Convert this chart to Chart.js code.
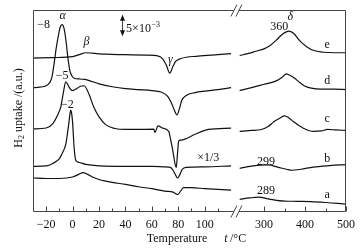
<!DOCTYPE html>
<html>
<head>
<meta charset="utf-8">
<script src="https://cdn.jsdelivr.net/npm/chart.js@4.4.0/dist/chart.umd.min.js"></script>
<style>
  html, body { margin: 0; padding: 0; background: #fff; }
</style>
</head>
<body>
<canvas id="tpr" width="361" height="252"></canvas>
<script>
// H2 uptake curves a..e, [temperature, signal] pairs (arbitrary units)
// low = sub-ambient / low temperature window, high = 240-500 window
const aLow = [[-30,35],[-20,34.5],[-10,34.5],[0,36],[5,39],[8,40.5],[11,39],[15,36],[20,33.5],[30,30.5],[40,28.5],[50,26],[60,24],[70,21.5],[76,20.5],[79.5,18],[82,22],[84,25],[90,25],[100,24],[120,22.5]]
const aHigh = [[240,13],[265,14.5],[287,15.3],[310,13.5],[330,12],[350,11.3],[380,11],[414,10.7],[450,9.8],[480,8.8],[500,8]]

const bLow = [[-30,47],[-20,47.5],[-15,50],[-10,55],[-8,60],[-6,66],[-5,71],[-4,80],[-3,90],[-2,101],[-1.5,105],[-0.8,102],[0,92],[0.6,78],[1.2,65],[2.5,53],[5,51],[10,49],[20,47.5],[40,47],[60,47],[70,46.5],[74,46],[76,43],[78,38],[79.5,35],[81,38],[83,44],[86,46],[100,46.5],[120,47.5]]
const bHigh = [[240,45],[265,47],[290,48.3],[310,48.5],[335,46],[355,44],[368,43],[390,44],[420,46.3],[460,47.8],[500,48.8]]

const cLow = [[-30,85.5],[-20,86.5],[-15,91],[-11,101],[-9,108],[-7,123],[-5.2,134],[-4,132],[-2,127],[0,125],[3,127],[6,129.5],[8.7,130],[12.5,121],[16,108],[20,98],[25,90],[32,86],[40,85],[50,85],[61.5,85.3],[62.3,82],[64.7,88.7],[68,86.5],[72.8,83],[74,76],[76,62],[77.8,48],[78.5,46],[79.3,58],[80.3,73],[82,74],[85,75],[92.8,80],[102.8,85],[120,86.3]]
const cHigh = [[240,83],[270,84],[291,84.7],[310,88],[324,93],[340,97],[350,99],[360,97],[372,93],[385,89],[396,86.3],[420,83],[440,83.5],[455,85],[475,84.5],[500,84]]

const dLow = [[-30,128],[-25,128.5],[-20,130],[-17,134],[-15.5,140],[-14,153],[-12.5,168],[-11,180],[-9.5,190],[-8,193],[-6.5,189],[-5,176],[-3.5,158],[-2,145],[-0.5,140],[1.5,137.5],[5,137],[9,136.5],[12,135.5],[20,132],[30,129],[40,127],[50,126],[60,125],[67,123.5],[72,119],[75.2,111],[77,105],[79,100],[81,107],[82.7,115],[86,120],[92.8,123],[100,124.5],[110,126],[120,128]]
const dHigh = [[240,125],[270,128],[300,131.5],[330,135],[345,139],[354,142.3],[362,141],[374,138],[385,134],[398,130],[415,127.5],[440,126.5],[470,126.5],[500,126]]

const eLow = [[-30,158.5],[-15,159],[0,160],[5,162],[10,164],[15,163.5],[25,162.5],[40,162],[55,161.5],[65,160.5],[68,158],[71,151],[73.5,143],[76,150],[78,155],[82,158],[95,160.5],[110,162],[120,163]]
const eHigh = [[240,161],[260,163],[280,165.5],[300,168],[315,171.5],[330,177],[345,183],[360,186.3],[372,184],[388,176],[405,170],[420,166.5],[445,164.5],[470,164],[500,164]]

const lowSeries = [aLow, bLow, cLow, dLow, eLow]
const highSeries = [aHigh, bHigh, cHigh, dHigh, eHigh]

// tick values of the broken temperature axis
const leftMajor = [-20, 0, 20, 40, 60, 80, 100]
const leftMinor = [-10, 10, 30, 50, 70, 90, 110]
const rightMajor = [300, 400, 500]
const rightMinor = [350, 450]

// peak / curve labels, placed in data coordinates
const notes = [
  { text: '−8', axis: 'xl', t: -22, y: 193 },
  { text: 'α', axis: 'xl', t: -7.6, y: 202, italic: true },
  { text: 'β', axis: 'xl', t: 10.5, y: 175, italic: true },
  { text: '−5', axis: 'xl', t: -7.9, y: 140 },
  { text: '−2', axis: 'xl', t: -4, y: 110 },
  { text: 'γ', axis: 'xl', t: 74, y: 157, italic: true },
  { text: '×1/3', axis: 'xl', t: 102.7, y: 56 },
  { text: '360', axis: 'xr', t: 337, y: 191 },
  { text: 'δ', axis: 'xr', t: 364, y: 200.5, italic: true },
  { text: '299', axis: 'xr', t: 305, y: 52 },
  { text: '289', axis: 'xr', t: 305, y: 22 },
  { text: 'e', axis: 'xr', t: 454, y: 172.5 },
  { text: 'd', axis: 'xr', t: 454, y: 135.5 },
  { text: 'c', axis: 'xr', t: 454, y: 95.5 },
  { text: 'b', axis: 'xr', t: 454, y: 55 },
  { text: 'a', axis: 'xr', t: 454, y: 18 }
]

const serif = "'Liberation Serif', 'DejaVu Serif', serif"
const ink = '#111'

function line(points, axis) {
  return {
    data: points,
    xAxisID: axis,
    yAxisID: 'y',
    borderColor: ink,
    borderWidth: 1.2,
    pointRadius: 0,
    fill: false,
    cubicInterpolationMode: 'monotone'
  }
}

const datasets = []
lowSeries.forEach((s, i) => {
  datasets.push(line(s, 'xl'))
  datasets.push(line(highSeries[i], 'xr'))
})

const minus = v => String(v).replace('-', '−')

// frame, inward ticks, axis break, titles and notes
const decor = {
  id: 'decor',
  afterDatasetsDraw(chart) {
    const { ctx, chartArea: ca, scales } = chart
    const xl = scales.xl, xr = scales.xr, y = scales.y
    const L = Math.round(ca.left) + 0.5, R = Math.round(ca.right) - 0.5
    const T = Math.round(ca.top) + 0.5, B = Math.round(ca.bottom) - 0.5
    const gapA = xl.right - 5.5, gapB = xl.right - 0.5

    ctx.save()
    ctx.strokeStyle = '#444'
    ctx.lineWidth = 1
    ctx.beginPath()
    ctx.moveTo(gapA, T); ctx.lineTo(L, T); ctx.lineTo(L, B); ctx.lineTo(gapA, B)
    ctx.moveTo(gapB, T); ctx.lineTo(R, T); ctx.lineTo(R, B); ctx.lineTo(gapB, B)
    ctx.stroke()

    // break marks
    ctx.beginPath()
    ;[T, B].forEach(yy => {
      ;[gapA, gapB].forEach(xx => {
        ctx.moveTo(xx - 3, yy + 6)
        ctx.lineTo(xx + 3, yy - 6)
      })
    })
    ctx.stroke()

    // inward ticks
    ctx.beginPath()
    const tick = (scale, v, len) => {
      const px = Math.round(scale.getPixelForValue(v)) + 0.5
      ctx.moveTo(px, B); ctx.lineTo(px, B - len)
    }
    leftMajor.forEach(v => tick(xl, v, 5))
    leftMinor.forEach(v => tick(xl, v, 3))
    rightMajor.forEach(v => tick(xr, v, 5))
    rightMinor.forEach(v => tick(xr, v, 3))
    ctx.stroke()

    // notes
    ctx.fillStyle = ink
    ctx.textAlign = 'center'
    ctx.textBaseline = 'middle'
    notes.forEach(n => {
      const sc = n.axis === 'xl' ? xl : xr
      ctx.font = (n.italic ? 'italic ' : '') + '12px ' + serif
      ctx.fillText(n.text, sc.getPixelForValue(n.t), y.getPixelForValue(n.y))
    })

    // scale bar 5x10^-3
    const bx = Math.round(xl.getPixelForValue(37.2)) + 0.5
    const by0 = y.getPixelForValue(203), by1 = y.getPixelForValue(181)
    ctx.beginPath()
    ctx.moveTo(bx, by0 + 3); ctx.lineTo(bx, by1 - 3)
    ctx.stroke()
    ctx.beginPath()
    ctx.moveTo(bx, by0); ctx.lineTo(bx - 2.5, by0 + 6); ctx.lineTo(bx + 2.5, by0 + 6); ctx.closePath()
    ctx.moveTo(bx, by1); ctx.lineTo(bx - 2.5, by1 - 6); ctx.lineTo(bx + 2.5, by1 - 6); ctx.closePath()
    ctx.fill()
    ctx.textAlign = 'left'
    ctx.textBaseline = 'alphabetic'
    const sx = xl.getPixelForValue(40.5), sy = y.getPixelForValue(185)
    ctx.font = '12px ' + serif
    ctx.fillText('5×10', sx, sy)
    const w = ctx.measureText('5×10').width
    ctx.font = '8px ' + serif
    ctx.fillText('−3', sx + w + 0.5, sy - 5)

    // x title
    ctx.font = '12px ' + serif
    ctx.textAlign = 'center'
    ctx.fillText('Temperature', 177, 242)
    ctx.font = 'italic 12px ' + serif
    ctx.fillText('t', 226, 242)
    ctx.font = '12px ' + serif
    ctx.textAlign = 'left'
    ctx.fillText('/°C', 230, 242)

    // y title, rotated
    ctx.translate(19, 108)
    ctx.rotate(-Math.PI / 2)
    ctx.textBaseline = 'middle'
    ctx.font = '12px ' + serif
    const wH = ctx.measureText('H').width
    const rest = ' uptake /(a.u.)'
    const wR = ctx.measureText(rest).width
    ctx.font = '8px ' + serif
    const w2 = ctx.measureText('2').width
    const x0 = -(wH + w2 + wR) / 2
    ctx.font = '12px ' + serif
    ctx.fillText('H', x0, 0)
    ctx.font = '8px ' + serif
    ctx.fillText('2', x0 + wH, 3)
    ctx.font = '12px ' + serif
    ctx.fillText(rest, x0 + wH + w2, 0)
    ctx.restore()
  }
}

const axisFont = { family: serif, size: 12 }

new Chart(document.getElementById('tpr'), {
  type: 'line',
  data: { datasets },
  options: {
    responsive: false,
    animation: false,
    devicePixelRatio: 1,
    layout: { padding: { left: 33, top: 10, right: 12, bottom: 13.6 } },
    plugins: { legend: { display: false }, tooltip: { enabled: false } },
    scales: {
      xl: {
        type: 'linear', position: 'bottom', stack: 'temp', stackWeight: 208.4, fullSize: false,
        min: -30, max: 126.3,
        grid: { display: false, drawTicks: false },
        border: { display: false },
        afterBuildTicks: s => { s.ticks = leftMajor.map(v => ({ value: v })) },
        ticks: { font: axisFont, color: ink, padding: 6, maxRotation: 0, autoSkip: false, callback: minus }
      },
      xr: {
        type: 'linear', position: 'bottom', stack: 'temp', stackWeight: 107.6, fullSize: false,
        min: 240, max: 500,
        grid: { display: false, drawTicks: false },
        border: { display: false },
        afterBuildTicks: s => { s.ticks = rightMajor.map(v => ({ value: v })) },
        ticks: { font: axisFont, color: ink, padding: 6, maxRotation: 0, autoSkip: false, callback: minus }
      },
      y: { display: false, min: 0, max: 208 }
    }
  },
  plugins: [decor]
})
</script>
</body>
</html>
